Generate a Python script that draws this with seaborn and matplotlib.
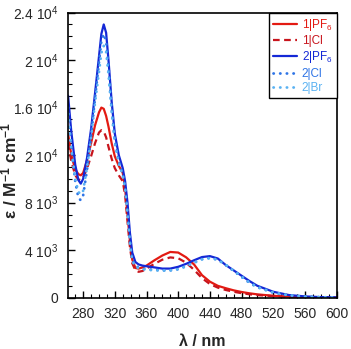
import matplotlib
matplotlib.use("Agg")
import matplotlib.pyplot as plt
import seaborn as sns
import numpy as np
from matplotlib.ticker import MultipleLocator

# Datos
wl = [261, 265, 270, 274, 277, 280, 285, 290, 295, 300, 303, 306, 309, 312, 316,
      320, 325, 330, 333, 336, 339, 342, 346, 350, 355, 360, 370, 380, 390, 400,
      410, 420, 430, 440, 450, 460, 470, 480, 490, 500, 520, 540, 560, 580, 600]

pf6_1 = [13800, 12000, 10800, 10400, 10300, 10500, 11600, 13000, 14500, 15600, 16000, 15900, 15300, 14400, 13000,
         11900, 11100, 10500, 9200, 7000, 4800, 3200, 2500, 2450, 2550, 2700, 3150, 3550, 3850, 3800,
         3400, 2800, 1900, 1350, 1000, 800, 620, 480, 370, 280, 160, 80, 40, 20, 10]
cl_1 = [13000, 11500, 10300, 9950, 9900, 10100, 10900, 11900, 13000, 13900, 14100, 14000, 13500, 12700, 11700,
        10900, 10300, 9800, 8600, 6400, 4300, 2900, 2300, 2180, 2250, 2450, 2850, 3200, 3390, 3320,
        2950, 2350, 1650, 1150, 850, 650, 500, 380, 290, 220, 130, 60, 30, 15, 8]
pf6_2 = [17000, 14000, 11200, 9900, 9600, 10000, 11800, 14200, 17200, 20300, 22200, 23000, 22300, 20000, 16500,
         13800, 12000, 10900, 9800, 8000, 5500, 3800, 3000, 2800, 2700, 2650, 2550, 2450, 2450, 2600,
         2850, 3150, 3420, 3500, 3300, 2750, 2300, 1850, 1400, 1000, 500, 220, 110, 50, 30]
cl_2 = [16000, 12800, 9800, 8400, 8200, 8600, 10800, 13600, 16800, 19800, 21600, 22200, 21600, 19500, 16000,
        13300, 11500, 10400, 9300, 7200, 4800, 3200, 2700, 2550, 2450, 2400, 2350, 2300, 2300, 2400,
        2650, 2950, 3250, 3350, 3200, 2750, 2250, 1750, 1250, 880, 430, 190, 90, 40, 20]
br_2 = [15500, 12500, 10000, 8900, 8700, 9000, 11000, 13500, 16400, 19000, 20600, 21200, 20700, 18800, 15600,
        13000, 11300, 10300, 9200, 7100, 4700, 3100, 2600, 2500, 2400, 2350, 2300, 2280, 2300, 2400,
        2650, 2950, 3220, 3330, 3200, 2780, 2280, 1780, 1280, 900, 450, 200, 90, 40, 20]

etiquetas = ["1|PF$_6$", "1|Cl", "2|PF$_6$", "2|Cl", "2|Br"]
colores = ["#E31A12", "#C8141C", "#1428D6", "#2E74E6", "#5AB2F2"]
estilos = ["-", (0, (3, 2)), "-", (0, (0.1, 2.3)), (0, (0.1, 2.3))]
series = [pf6_1, cl_1, pf6_2, cl_2, br_2]

yticks = [0, 4000, 8000, 12000, 16000, 20000, 24000]
ytick_labels = ["0", "4 10$^3$", "8 10$^3$", "2 10$^4$", "1.6 10$^4$", "2 10$^4$", "2.4 10$^4$"]

sns.set_style("ticks")
plt.rcParams['font.family'] = ['Liberation Sans', 'DejaVu Sans']
plt.rcParams['mathtext.fontset'] = 'custom'
plt.rcParams['mathtext.rm'] = 'Liberation Sans'
plt.rcParams['mathtext.it'] = 'Liberation Sans:italic'
plt.rcParams['mathtext.bf'] = 'Liberation Sans:bold'

fig = plt.figure(figsize=(3.51, 3.49), dpi=100)
ax = fig.add_axes([0.194, 0.147, 0.765, 0.817])

for y, lab, c, ls in zip(series, etiquetas, colores, estilos):
    sns.lineplot(x=wl, y=y, ax=ax, color=c, linestyle=ls, label=lab,
                 linewidth=1.6 if ls != estilos[3] else 2.0,
                 dash_capstyle="round" if ls == estilos[3] else "butt")

ax.set_xlim(261, 600)
ax.set_ylim(0, 24000)
ax.set_xticks(range(280, 601, 40))
ax.xaxis.set_minor_locator(MultipleLocator(10))
ax.set_yticks(yticks)
ax.set_yticklabels(ytick_labels)
ax.yaxis.set_minor_locator(MultipleLocator(1000))
ax.tick_params(which="both", direction="in", top=False, right=False, labelsize=10, color="black")
ax.tick_params(which="major", length=5, width=1)
ax.tick_params(axis="y", which="major", pad=7)
ax.tick_params(axis="x", which="major", pad=7)
ax.tick_params(which="minor", length=3, width=0.8)
for s in ax.spines.values():
    s.set_linewidth(1.2)
    s.set_color("black")

ax.set_xlabel("λ / nm", fontsize=11.5, fontweight="bold", labelpad=9)
ax.set_ylabel(r"ε / M$^{\mathbf{-1}}$ cm$^{\mathbf{-1}}$", fontsize=12.5, fontweight="bold")
ax.yaxis.set_label_coords(-0.18, 0.445)

leg = ax.legend(loc="upper right", borderaxespad=0, fancybox=False, edgecolor="black",
                framealpha=1, fontsize=8.5, handlelength=2.0, labelspacing=0.2,
                handletextpad=0.4, borderpad=0.35)
leg.get_frame().set_linewidth(1.0)
for t, c in zip(leg.get_texts(), colores):
    t.set_color(c)

fig.savefig("out.png", dpi=100)
